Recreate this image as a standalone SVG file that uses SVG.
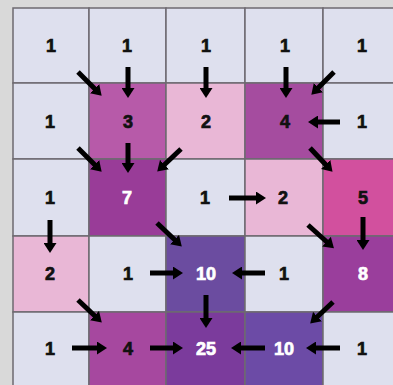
<svg xmlns="http://www.w3.org/2000/svg" width="393" height="385" viewBox="0 0 393 385">
<defs>
<style>
.cell{stroke:#6e6a70;stroke-width:1.5}
.lt{fill:#dee0ee}
.pk{fill:#e9b7d6}
.t{font-family:"Liberation Sans",Arial,sans-serif;font-weight:bold;font-size:18px;text-anchor:middle;stroke-width:0.7}
.b{fill:#111;stroke:#111}
.w{fill:#fff;stroke:#fff}
.ar{stroke:#000;stroke-width:5;fill:none;marker-end:url(#h)}
</style>
<marker id="h" viewBox="0 0 10 13" refX="2" refY="6.5" markerWidth="10" markerHeight="13" markerUnits="userSpaceOnUse" orient="auto">
<path d="M0,0 L10,6.5 L0,13 z" fill="#000"/>
</marker>
</defs>
<rect width="393" height="385" fill="#d9d9d9"/>
<g id="n00"><rect class="cell lt" x="13" y="8" width="76" height="75"/><text class="t b" x="51" y="52">1</text></g>
<g id="n01"><rect class="cell lt" x="89" y="8" width="77" height="75"/><text class="t b" x="127" y="52">1</text></g>
<g id="n02"><rect class="cell lt" x="166" y="8" width="79" height="75"/><text class="t b" x="206" y="52">1</text></g>
<g id="n03"><rect class="cell lt" x="245" y="8" width="78" height="75"/><text class="t b" x="285" y="52">1</text></g>
<g id="n04"><rect class="cell lt" x="323" y="8" width="80" height="75"/><text class="t b" x="362" y="52">1</text></g>

<g id="n10"><rect class="cell lt" x="13" y="83" width="76" height="76"/><text class="t b" x="50" y="128">1</text></g>
<g id="n11"><rect class="cell" fill="#b75aa9" x="89" y="83" width="77" height="76"/><text class="t b" x="128" y="128">3</text></g>
<g id="n12"><rect class="cell pk" x="166" y="83" width="79" height="76"/><text class="t b" x="206" y="128">2</text></g>
<g id="n13"><rect class="cell" fill="#a54c9f" x="245" y="83" width="78" height="76"/><text class="t b" x="285" y="128">4</text></g>
<g id="n14"><rect class="cell lt" x="323" y="83" width="80" height="76"/><text class="t b" x="362" y="128">1</text></g>

<g id="n20"><rect class="cell lt" x="13" y="159" width="76" height="77"/><text class="t b" x="50" y="204">1</text></g>
<g id="n21"><rect class="cell" fill="#993c98" x="89" y="159" width="77" height="77"/><text class="t w" x="127" y="204">7</text></g>
<g id="n22"><rect class="cell lt" x="166" y="159" width="79" height="77"/><text class="t b" x="205" y="204">1</text></g>
<g id="n23"><rect class="cell pk" x="245" y="159" width="78" height="77"/><text class="t b" x="283" y="204">2</text></g>
<g id="n24"><rect class="cell" fill="#d2509e" x="323" y="159" width="80" height="77"/><text class="t b" x="363" y="204">5</text></g>

<g id="n30"><rect class="cell pk" x="13" y="236" width="76" height="76"/><text class="t b" x="50" y="280">2</text></g>
<g id="n31"><rect class="cell lt" x="89" y="236" width="77" height="76"/><text class="t b" x="128" y="280">1</text></g>
<g id="n32"><rect class="cell" fill="#6b4ca0" x="166" y="236" width="79" height="76"/><text class="t w" x="206" y="280">10</text></g>
<g id="n33"><rect class="cell lt" x="245" y="236" width="78" height="76"/><text class="t b" x="284" y="280">1</text></g>
<g id="n34"><rect class="cell" fill="#9a3e9c" x="323" y="236" width="80" height="76"/><text class="t w" x="363" y="280">8</text></g>

<g id="n40"><rect class="cell lt" x="13" y="312" width="76" height="80"/><text class="t b" x="50" y="355">1</text></g>
<g id="n41"><rect class="cell" fill="#a6489f" x="89" y="312" width="77" height="80"/><text class="t b" x="128" y="355">4</text></g>
<g id="n42"><rect class="cell" fill="#7b3b9c" x="166" y="312" width="79" height="80"/><text class="t w" x="206" y="355">25</text></g>
<g id="n43"><rect class="cell" fill="#6c4ba6" x="245" y="312" width="78" height="80"/><text class="t w" x="284" y="355">10</text></g>
<g id="n44"><rect class="cell lt" x="323" y="312" width="80" height="80"/><text class="t b" x="362" y="355">1</text></g>

<g id="connectors">
<line class="ar" x1="78" y1="72" x2="96" y2="90"/>
<line class="ar" x1="128" y1="67" x2="128" y2="90"/>
<line class="ar" x1="206" y1="67" x2="206" y2="90"/>
<line class="ar" x1="286" y1="67" x2="286" y2="90"/>
<line class="ar" x1="334" y1="72" x2="317" y2="89"/>
<line class="ar" x1="340" y1="122" x2="316" y2="122"/>
<line class="ar" x1="78" y1="148" x2="96" y2="166"/>
<line class="ar" x1="128" y1="143" x2="128" y2="165"/>
<line class="ar" x1="181" y1="149" x2="163" y2="166"/>
<line class="ar" x1="310" y1="148" x2="327" y2="166"/>
<line class="ar" x1="229" y1="198" x2="258" y2="198"/>
<line class="ar" x1="50" y1="220" x2="50" y2="245"/>
<line class="ar" x1="157" y1="223" x2="176" y2="241"/>
<line class="ar" x1="150" y1="273" x2="175" y2="273"/>
<line class="ar" x1="265" y1="273" x2="240" y2="273"/>
<line class="ar" x1="308" y1="225" x2="328" y2="243"/>
<line class="ar" x1="363" y1="217" x2="363" y2="242"/>
<line class="ar" x1="78" y1="300" x2="96" y2="317"/>
<line class="ar" x1="206" y1="295" x2="206" y2="320"/>
<line class="ar" x1="333" y1="302" x2="316" y2="318"/>
<line class="ar" x1="72" y1="348" x2="99" y2="348"/>
<line class="ar" x1="150" y1="348" x2="175" y2="348"/>
<line class="ar" x1="265" y1="348" x2="239" y2="348"/>
<line class="ar" x1="340" y1="348" x2="314" y2="348"/>
</g>
</svg>
